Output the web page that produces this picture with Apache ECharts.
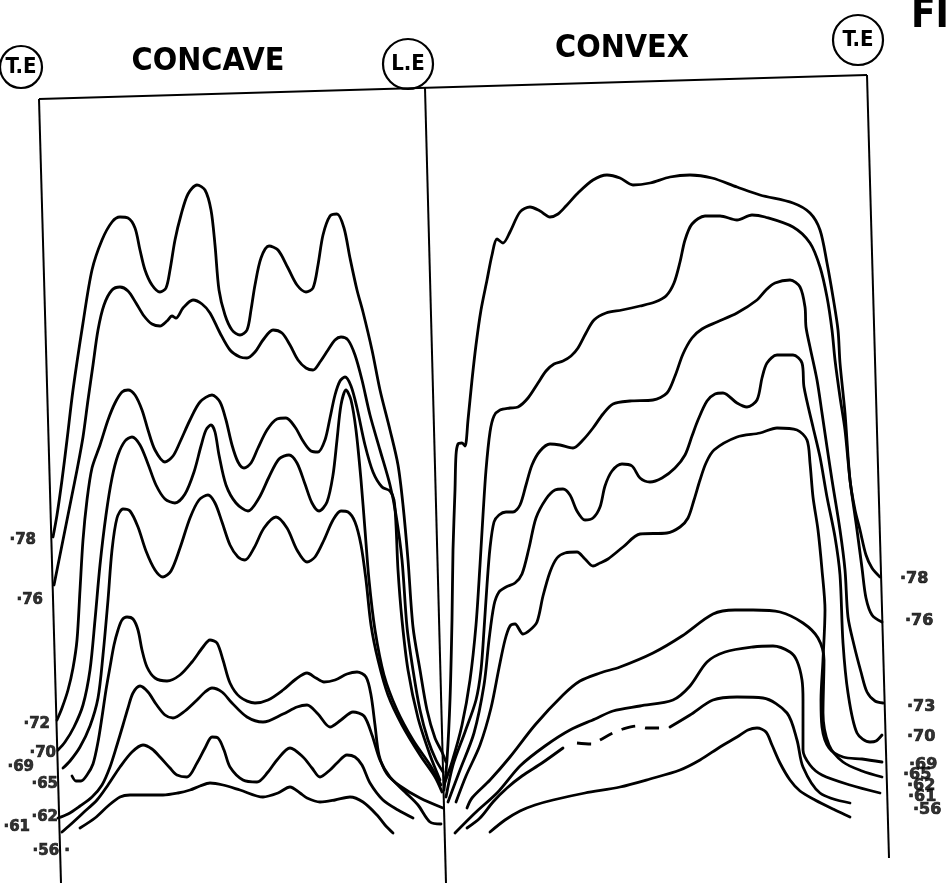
<!DOCTYPE html>
<html><head><meta charset="utf-8">
<script src="https://cdn.jsdelivr.net/npm/echarts@6/dist/echarts.min.js"></script>
<style>html,body{margin:0;padding:0;background:#fff}#c{width:952px;height:883px}</style>
</head><body><div id="c"></div>
<script>
// ---- Figure coordinates (x: chordwise station across the sheet, y: level, down) ----
// Frame: trailing edge (concave) | leading edge | trailing edge (convex)
const frameTop    = [[39,99],[867,75]];
const frameLeft   = [[39,99],[61,883]];
const frameCentre = [[425,88],[446,883]];
const frameRight  = [[867,75],[889,858]];

// ---- Concave-side curves (T.E. -> L.E.) ----
const concave78 = [[53,537],[57,515],[62,480],[67,440],[73,390],[83,323],[92,270],[102,240],[112,222],[120,217],[128,218],[135,228],[140,250],[145,270],[152,285],[160,292],[166,288],[170,270],[175,240],[181,215],[188,194],[197,185],[205,190],[211,210],[215,245],[219,290],[225,315],[232,330],[240,335],[247,330],[251,310],[255,285],[261,258],[269,246],[278,250],[288,268],[297,285],[306,292],[313,288],[318,265],[323,235],[330,216],[337,214],[344,228],[350,258],[357,290],[363,312],[372,350],[380,390],[390,430],[398,465],[403,505],[408,560],[413,627],[420,670],[427,710],[435,738],[442,752],[446,762]];
const concave76 = [[54,585],[60,555],[66,525],[72,495],[77,470],[83,437],[88,400],[93,365],[98,330],[104,305],[112,290],[120,287],[128,291],[136,303],[144,316],[152,324],[160,326],[167,321],[172,316],[176,318],[183,308],[193,300],[202,304],[210,313],[220,333],[230,350],[240,357],[247,358],[255,352],[263,340],[273,330],[282,333],[290,345],[298,360],[306,368],[313,370],[320,362],[328,350],[335,340],[341,337],[348,340],[355,355],[362,380],[370,415],[380,450],[390,485],[396,515],[402,560],[407,627],[413,670],[420,710],[428,740],[436,760],[443,772]];
const concave72 = [[57,720],[62,708],[68,690],[73,668],[77,640],[80,590],[83,540],[87,500],[92,468],[100,445],[108,420],[115,403],[122,392],[128,390],[135,395],[142,410],[148,430],[155,450],[165,462],[173,456],[180,442],[190,420],[200,402],[212,395],[220,402],[226,420],[232,445],[238,462],[244,468],[251,463],[258,448],[267,430],[277,419],[286,418],[295,427],[303,441],[311,451],[318,452],[325,440],[330,418],[335,395],[340,381],[345,377],[351,386],[357,408],[365,445],[373,472],[382,487],[390,491],[394,500],[396,525],[398,570],[402,620],[408,670],[418,718],[430,755],[440,780]];
const concave70 = [[58,750],[65,742],[74,727],[83,705],[90,670],[95,620],[100,565],[106,515],[112,478],[118,455],[125,441],[132,437],[140,445],[148,464],[156,485],[165,499],[175,503],[185,494],[194,472],[201,446],[206,430],[211,425],[215,432],[219,455],[226,485],[236,503],[248,511],[259,498],[269,477],[279,459],[289,455],[297,463],[305,484],[312,503],[319,511],[327,502],[333,475],[337,440],[341,405],[346,390],[351,400],[356,430],[361,480],[365,530],[369,580],[375,630],[384,675],[397,710],[413,740],[430,765],[441,785]];
const concave69 = [[63,768],[70,761],[80,747],[90,726],[98,698],[103,655],[108,600],[112,550],[117,518],[123,509],[130,511],[138,527],[146,551],[155,570],[163,577],[171,571],[180,548],[190,518],[199,500],[208,495],[215,503],[222,522],[230,545],[238,557],[245,560],[254,548],[264,528],[276,517],[287,528],[297,550],[307,562],[315,557],[324,540],[333,520],[341,511],[348,512],[355,522],[361,545],[366,580],[371,625],[378,660],[388,695],[402,725],[420,755],[435,777],[442,792]];
const concave65 = [[72,776],[76,781],[81,781],[87,775],[93,764],[98,742],[102,717],[106,690],[110,667],[114,645],[118,630],[122,620],[127,617],[133,619],[138,630],[142,650],[147,667],[155,678],[167,681],[180,675],[192,662],[203,647],[210,640],[217,643],[223,660],[230,683],[240,697],[255,703],[268,700],[283,690],[296,679],[307,673],[316,678],[324,682],[335,680],[347,674],[357,672],[366,677],[371,695],[375,725],[379,755],[387,774],[400,786],[420,798],[443,808]];
const concave62 = [[58,818],[68,814],[80,806],[92,797],[102,785],[110,767],[117,745],[123,725],[128,708],[133,693],[140,686],[148,692],[156,704],[165,715],[173,718],[185,711],[197,700],[205,692],[212,688],[222,692],[232,703],[247,717],[263,722],[283,714],[297,707],[307,705],[318,714],[330,727],[341,720],[353,712],[364,716],[372,735],[380,760],[390,777],[405,792],[418,805],[430,822],[441,824]];
const concave61 = [[62,832],[70,825],[83,813],[97,800],[108,785],[120,767],[132,752],[143,745],[152,749],[160,757],[170,768],[177,775],[187,777],[197,763],[205,748],[212,737],[218,738],[224,750],[230,767],[243,780],[257,782],[268,772],[277,760],[290,748],[303,757],[312,768],[320,777],[330,770],[337,763],[347,755],[355,757],[362,765],[370,783],[383,800],[398,810],[413,818]];
const concave56 = [[80,828],[95,818],[108,806],[120,797],[130,795],[147,795],[163,795],[178,793],[190,790],[200,786],[210,783],[223,785],[240,790],[263,797],[278,793],[290,787],[300,793],[307,798],[320,802],[335,800],[350,797],[363,802],[377,815],[385,825],[393,833]];

// ---- Convex-side curves (L.E. -> T.E.) ----
const convex78 = [[444,790],[447,760],[450,700],[452,620],[453,550],[455,490],[456,455],[458,444],[462,443],[465,446],[468,420],[472,380],[476,345],[481,310],[487,280],[492,255],[497,239],[503,243],[510,232],[520,212],[530,207],[540,211],[550,217],[558,214],[566,206],[578,193],[593,180],[607,175],[620,178],[633,185],[650,183],[670,177],[690,175],[712,178],[737,187],[760,195],[793,203],[810,213],[820,230],[827,263],[833,297],[838,330],[840,363],[845,413],[850,480],[855,510],[860,530],[866,555],[872,568],[880,577]];
const convex76 = [[445,782],[452,762],[462,725],[470,680],[476,625],[480,565],[483,515],[486,470],[490,432],[494,416],[500,410],[510,408],[518,407],[528,398],[538,383],[546,371],[554,364],[563,361],[571,356],[578,348],[586,333],[594,320],[606,313],[622,310],[640,306],[655,302],[666,296],[674,283],[680,262],[685,240],[692,224],[705,216],[720,216],[737,220],[752,215],[765,217],[793,227],[810,243],[820,267],[827,297],[832,330],[835,360],[840,397],[845,430],[850,480],[857,530],[862,568],[866,598],[872,615],[882,622]];
const convex73 = [[446,797],[453,765],[465,732],[476,700],[481,670],[484,630],[487,585],[490,548],[494,522],[499,515],[506,512],[513,512],[520,505],[526,485],[532,465],[540,451],[550,444],[560,445],[573,448],[583,440],[593,428],[603,414],[613,404],[630,401],[653,400],[667,393],[675,376],[683,354],[692,338],[702,329],[717,322],[737,313],[757,300],[766,290],[775,283],[790,280],[800,287],[805,307],[806,327],[810,347],[817,380],[822,413],[827,447],[832,480],[840,530],[845,570],[848,617],[854,645],[861,672],[867,692],[875,701],[883,703]];
const convex70 = [[448,802],[460,770],[474,733],[484,685],[489,640],[494,605],[499,592],[506,587],[515,583],[522,574],[529,548],[536,518],[546,499],[555,490],[563,489],[570,495],[577,511],[585,520],[593,518],[600,507],[605,486],[612,471],[622,464],[632,466],[640,478],[650,482],[662,478],[675,468],[685,455],[692,436],[698,420],[707,401],[715,394],[723,393],[737,403],[747,407],[757,400],[762,378],[767,363],[777,355],[793,355],[802,363],[804,387],[813,427],[820,457],[827,497],[835,537],[840,575],[843,643],[848,693],[857,733],[870,742],[876,741],[882,735]];
const convex69 = [[456,802],[466,776],[480,745],[491,708],[499,668],[505,640],[510,626],[515,624],[523,634],[530,630],[537,622],[543,596],[550,572],[557,558],[565,553],[577,552],[585,559],[593,566],[600,563],[608,559],[623,547],[640,534],[667,533],[680,527],[688,518],[694,500],[700,480],[706,463],[714,450],[737,437],[760,433],[777,428],[797,430],[807,440],[810,463],[813,497],[818,530],[822,570],[825,610],[823,660],[821,700],[822,727],[829,748],[843,757],[862,759],[882,762]];
const convex65 = [[467,808],[472,798],[490,780],[510,757],[535,725],[563,695],[580,681],[600,673],[620,667],[653,653],[682,636],[713,614],[735,610],[753,610],[780,612],[803,623],[818,638],[824,660],[823,713],[829,745],[843,762],[862,771],[882,777]];
const convex62 = [[455,833],[475,813],[498,792],[520,766],[545,746],[570,730],[595,719],[613,711],[640,706],[673,700],[690,686],[707,662],[725,652],[753,647],[773,646],[790,652],[797,661],[802,680],[803,700],[803,750],[810,765],[822,775],[850,785],[880,793]];
const convex61Solid1 = [[467,828],[480,818],[493,802],[507,788],[522,776],[542,763],[563,748]];
const convex61Dashed = [[577,743],[592,744],[600,740],[613,733],[623,729],[637,726],[647,728],[662,728]];
const convex61Solid2 = [[670,727],[690,715],[713,700],[737,697],[763,698],[787,713],[797,740],[803,767],[820,793],[850,803]];
const convex56 = [[490,832],[505,820],[520,811],[535,805],[553,800],[585,793],[620,787],[650,779],[680,770],[700,760],[720,747],[737,737],[748,730],[757,728],[766,732],[772,745],[780,763],[790,780],[800,791],[815,800],[835,810],[850,817]];

// ---- Curve labels (Mach numbers) ----
const concaveLabels = ['·78','·76','·72','·70','·69','·65','·62','·61','·56 ·'];
const convexLabels  = ['·78','·76','·73','·70','·69','·65','·62','·61','·56'];

// ---- Layout / style (not data) ----
const concaveLabelOffsets = [[-17,3],[-11,15],[-7,4],[-2,3],[-29,-1],[-14,8],[0,-1],[-32,-5],[-10,23]];
const convexLabelOffsets  = [[20,2],[23,-1],[24,4],[25,2],[27,3],[21,-2],[27,-7],[58,-6],[63,-7]];

const concaveCurves = [concave78,concave76,concave72,concave70,concave69,concave65,concave62,concave61,concave56];
const convexCurves  = [convex78,convex76,convex73,convex70,convex69,convex65,convex62,convex61Solid2,convex56];
const convexExtra   = [convex61Solid1];

const INK = '#000';
const series = [];
[frameTop, frameLeft, frameCentre, frameRight].forEach(d => series.push({
  type:'line', data:d, symbol:'none', silent:true, lineStyle:{color:INK, width:2}
}));
concaveCurves.concat(convexCurves, convexExtra).forEach(d => series.push({
  type:'line', data:d, symbol:'none', smooth:0.3, silent:true, lineStyle:{color:INK, width:2.8, cap:'round', join:'round'}
}));
series.push({type:'line', data:convex61Dashed, symbol:'none', smooth:0.3, silent:true,
  lineStyle:{color:INK, width:2.8, type:[14,10]}});

const labelFont = {fontFamily:'DejaVu Sans', fontWeight:'bold', color:INK, textBorderColor:INK, textBorderWidth:0.7};
series.push({
  type:'scatter', symbolSize:0, silent:true,
  data: concaveLabels.map((t,i)=>({value:concaveCurves[i][0],
    label:{show:true, formatter:t, position:'inside', align:'right', verticalAlign:'middle',
      offset:concaveLabelOffsets[i], fontSize:15, ...labelFont}}))
});
series.push({
  type:'scatter', symbolSize:0, silent:true,
  data: convexLabels.map((t,i)=>{const c=convexCurves[i]; return {value:c[c.length-1],
    label:{show:true, formatter:t, position:'inside', align:'left', verticalAlign:'middle',
      offset:convexLabelOffsets[i], fontSize:16, ...labelFont}};})
});

const circ = (cx,cy,r,t)=>[
  {type:'circle', shape:{cx:cx, cy:cy, r:r}, style:{fill:'#fff', stroke:INK, lineWidth:2.2}},
  {type:'text', x:cx, y:cy, style:{text:t, fill:INK, font:'bold 22px "DejaVu Sans Condensed", "DejaVu Sans"', textAlign:'center', textVerticalAlign:'middle', align:'center', verticalAlign:'middle'}}
];
const headFont = 'bold 32px "DejaVu Sans Condensed", "DejaVu Sans", sans-serif';
const chart = echarts.init(document.getElementById('c'), null, {renderer:'canvas'});
chart.setOption({
  animation:false,
  backgroundColor:'#fff',
  grid:{left:0, right:0, top:0, bottom:0},
  xAxis:{type:'value', min:0, max:952, show:false},
  yAxis:{type:'value', min:0, max:883, inverse:true, show:false},
  series: series,
  graphic: [].concat(
    circ(21,67,21,'T.E'), circ(408,64,25,'L.E'), circ(858,40,25,'T.E'),
    [
      {type:'text', x:208, y:62, style:{text:'CONCAVE', fill:INK, font:headFont, textAlign:'center', textVerticalAlign:'middle', align:'center', verticalAlign:'middle'}},
      {type:'text', x:622, y:49, style:{text:'CONVEX', fill:INK, font:headFont, textAlign:'center', textVerticalAlign:'middle', align:'center', verticalAlign:'middle'}},
      {type:'text', x:911, y:17, style:{text:'FI', fill:INK, font:'bold 40px "DejaVu Sans Condensed", "DejaVu Sans", sans-serif', textAlign:'left', textVerticalAlign:'middle', align:'left', verticalAlign:'middle'}}
    ])
});
</script></body></html>
